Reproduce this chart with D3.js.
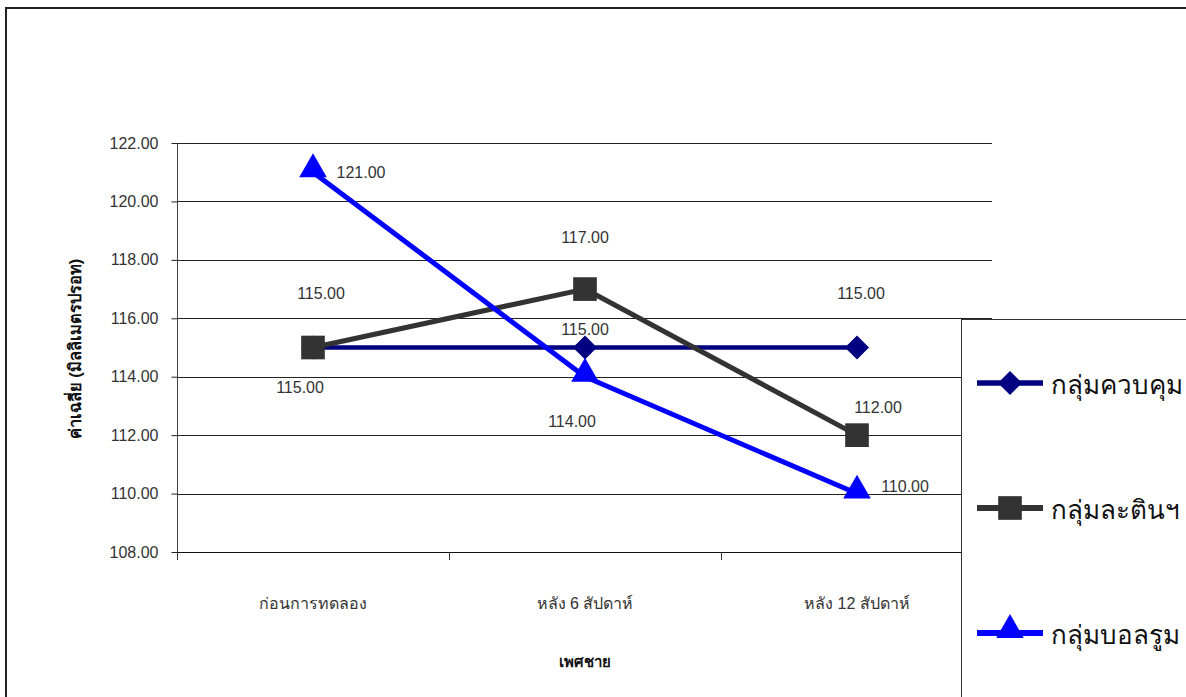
<!DOCTYPE html>
<html>
<head>
<meta charset="utf-8">
<script src="https://cdn.jsdelivr.net/npm/d3@7"></script>
<style>
  html, body { margin: 0; padding: 0; background: #fff; }
  svg { display: block; }
  text { font-family: "Liberation Sans", Arial, "Noto Sans", sans-serif; }
</style>
</head>
<body>
<svg id="chart" width="1186" height="697"></svg>
<script>
// Mean values per group, for the three measurement points
const categories = ["ก่อนการทดลอง", "หลัง 6 สัปดาห์", "หลัง 12 สัปดาห์"];
const seriesNames = ["กลุ่มควบคุม", "กลุ่มละตินฯ", "กลุ่มบอลรูม"];
const controlValues = [115.00, 115.00, 115.00];
const latinValues = [115.00, 117.00, 112.00];
const ballroomValues = [121.00, 114.00, 110.00];
const yTicks = [108, 110, 112, 114, 116, 118, 120, 122];
const yTitle = "ค่าเฉลี่ย (มิลลิเมตรปรอท)";
const xTitle = "เพศชาย";

// Styling for each series and where its value labels sit (pixel offsets from the point)
const seriesStyle = [
  { color: "#000080", width: 4.5, symbol: d3.symbolSquare, rotate: 45, size: 290, shift: 0, labelOffsets: [[8, -54], [0, -18], [4, -54]] },
  { color: "#333333", width: 5, symbol: d3.symbolSquare, rotate: 0, size: 560, shift: 0, labelOffsets: [[-13, 40], [0, -52], [21, -28]] },
  { color: "#0000ff", width: 5, symbol: d3.symbolTriangle, rotate: 0, size: 330, shift: -3, labelOffsets: [[48, 0], [-13, 45], [48, -7]] }
];
const seriesValues = [controlValues, latinValues, ballroomValues];

const svg = d3.select("#chart");
const W = 1186, H = 697;
const plot = { left: 177, right: 993, top: 143, bottom: 552 };

// outer chart border
svg.append("rect")
  .attr("x", 6).attr("y", 8).attr("width", W).attr("height", H)
  .attr("fill", "#fff").attr("stroke", "#222").attr("stroke-width", 2);

const x = d3.scaleBand().domain(categories).range([plot.left, plot.right]).padding(0);
const y = d3.scaleLinear().domain([108, 122]).range([plot.bottom, plot.top]);

// horizontal gridlines
svg.append("g").selectAll("line").data(yTicks.slice(1)).join("line")
  .attr("x1", plot.left).attr("x2", plot.right - 1)
  .attr("y1", d => Math.round(y(d)) + 0.5).attr("y2", d => Math.round(y(d)) + 0.5)
  .attr("stroke", "#222").attr("stroke-width", 1);

// y axis
const yAxis = svg.append("g")
  .attr("transform", `translate(${plot.left + 0.5},0)`)
  .call(d3.axisLeft(y).tickValues(yTicks).tickFormat(d3.format(".2f")).tickSize(6).tickSizeOuter(0));
yAxis.select(".domain").attr("stroke", "#444").attr("d", `M0,${plot.top}V${plot.bottom + 7}`);
yAxis.selectAll(".tick line").attr("stroke", "#222");
yAxis.selectAll(".tick text")
  .attr("x", -19).attr("font-size", 16).attr("fill", "#333")
  .style("font-family", "'Liberation Sans', Arial, sans-serif");

// x axis: baseline plus ticks at category boundaries
const xBase = svg.append("g");
xBase.append("line")
  .attr("x1", plot.left).attr("x2", plot.right - 1)
  .attr("y1", Math.round(y(108)) + 0.5).attr("y2", Math.round(y(108)) + 0.5)
  .attr("stroke", "#111");
const bounds = categories.map(c => x(c)).concat([plot.right]);
xBase.selectAll("line.bt").data(bounds).join("line").attr("class", "bt")
  .attr("x1", d => Math.round(d) + 0.5).attr("x2", d => Math.round(d) + 0.5)
  .attr("y1", Math.round(y(108))).attr("y2", Math.round(y(108)) + 8)
  .attr("stroke", "#333");
xBase.selectAll("text.cat").data(categories).join("text").attr("class", "cat")
  .attr("x", d => x(d) + x.bandwidth() / 2)
  .attr("y", 603)
  .attr("text-anchor", "middle").attr("dominant-baseline", "central")
  .attr("font-size", 16).attr("fill", "#333")
  .text(d => d);

// axis titles
svg.append("text")
  .attr("transform", "translate(75,349) rotate(-90)")
  .attr("text-anchor", "middle").attr("dominant-baseline", "central")
  .attr("font-size", 16.5).attr("font-weight", "bold").attr("fill", "#111")
  .text(yTitle);
svg.append("text")
  .attr("x", 585).attr("y", 661)
  .attr("text-anchor", "middle").attr("dominant-baseline", "central")
  .attr("font-size", 15).attr("font-weight", "bold").attr("fill", "#111")
  .text(xTitle);

// legend box (white, covers gridlines behind it)
const legend = svg.append("g");
legend.append("rect")
  .attr("x", 961.5).attr("y", 319.5).attr("width", 300).attr("height", 400)
  .attr("fill", "#fff").attr("stroke", "#333").attr("stroke-width", 1);

const cx = d => x(d) + x.bandwidth() / 2;

// series lines and markers
const line = d3.line().x((d, i) => cx(categories[i])).y(d => y(d));
seriesValues.forEach((vals, s) => {
  const st = seriesStyle[s];
  const g = svg.append("g");
  g.append("path").datum(vals)
    .attr("d", line).attr("fill", "none")
    .attr("stroke", st.color).attr("stroke-width", st.width)
    .attr("stroke-linejoin", "round");
  g.selectAll("path.m").data(vals).join("path").attr("class", "m")
    .attr("transform", (d, i) => `translate(${cx(categories[i])},${y(d) + st.shift}) rotate(${st.rotate})`)
    .attr("d", d3.symbol().type(st.symbol).size(st.size))
    .attr("fill", st.color);
});

// value labels
seriesValues.forEach((vals, s) => {
  const st = seriesStyle[s];
  svg.append("g").selectAll("text").data(vals).join("text")
    .attr("x", (d, i) => cx(categories[i]) + st.labelOffsets[i][0])
    .attr("y", (d, i) => y(d) + st.labelOffsets[i][1])
    .attr("text-anchor", "middle").attr("dominant-baseline", "central")
    .attr("font-size", 16).attr("fill", "#333")
    .text(d => d3.format(".2f")(d));
});

// legend entries
const rows = [383, 508, 633];
seriesNames.forEach((name, s) => {
  const st = seriesStyle[s];
  const gy = rows[s];
  legend.append("line")
    .attr("x1", 977).attr("x2", 1043).attr("y1", gy).attr("y2", gy)
    .attr("stroke", st.color).attr("stroke-width", st.width + 1);
  legend.append("path")
    .attr("transform", `translate(1010,${gy + st.shift}) rotate(${st.rotate})`)
    .attr("d", d3.symbol().type(st.symbol).size(st.size))
    .attr("fill", st.color);
  legend.append("text")
    .attr("x", 1051).attr("y", gy + 2)
    .attr("dominant-baseline", "central")
    .attr("font-size", 26).attr("fill", "#111")
    .text(name);
});
</script>
</body>
</html>
